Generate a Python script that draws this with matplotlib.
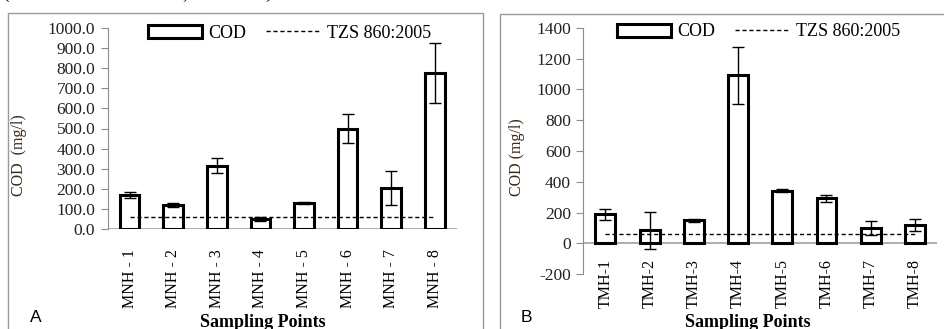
import matplotlib.pyplot as plt
from matplotlib.patches import Rectangle
import numpy as np

plt.rcParams['font.family'] = ['Liberation Serif', 'DejaVu Serif']

mnh_labels = ['MNH - 1', 'MNH - 2', 'MNH - 3', 'MNH - 4', 'MNH - 5', 'MNH - 6', 'MNH - 7', 'MNH - 8']
mnh_cod = [168, 117, 315, 50, 131, 500, 202, 775]
mnh_err = [15, 10, 38, 10, 5, 70, 85, 150]

tmh_labels = ['TMH-1', 'TMH-2', 'TMH-3', 'TMH-4', 'TMH-5', 'TMH-6', 'TMH-7', 'TMH-8']
tmh_cod = [190, 86, 152, 1090, 343, 292, 102, 120]
tmh_err = [35, 120, 10, 185, 12, 22, 45, 37]

tzs_limit = 60

W, H = 944, 329
fig = plt.figure(figsize=(W / 100, H / 100), dpi=100)


def px_axes(x0, x1, ytop, ybot):
    return fig.add_axes([x0 / W, 1 - ybot / H, (x1 - x0) / W, (ybot - ytop) / H])


def panel(ax, labels, cod, err, ylim, yticks, fmt, label_y, leg_x, leg_y):
    x = np.arange(len(labels))
    bars = ax.bar(x, cod, width=0.45, facecolor='white', edgecolor='black', linewidth=2.2,
                  zorder=2)
    ax.errorbar(x, cod, yerr=err, fmt='none', ecolor='black', elinewidth=1,
                capsize=4.5, capthick=1, zorder=3)
    line, = ax.plot([x[0], x[-1]], [tzs_limit, tzs_limit], color='black',
                    linestyle=(0, (3, 2)), linewidth=1, zorder=4)
    ax.set_xlim(-0.5, len(labels) - 0.5)
    ax.set_ylim(*ylim)
    ax.set_yticks(yticks)
    ax.set_yticklabels([fmt.format(v) for v in yticks], fontsize=12.5, color='#222222')
    ax.set_xticks([])
    for s in ['top', 'right', 'bottom']:
        ax.spines[s].set_visible(False)
    ax.spines['left'].set_color('#8c8c8c')
    ax.tick_params(axis='y', length=5, color='#8c8c8c', pad=4)
    ax.axhline(0, color='#a0a0a0', linewidth=1.2, zorder=1)
    for xi, lab in zip(x, labels):
        ax.text(xi, label_y, lab, rotation=90, ha='center', va='bottom', fontsize=11.5,
                transform=ax.get_xaxis_transform())
    ax.patch.set_alpha(0)
    ax.legend([bars, line], ['COD', 'TZS 860:2005'], loc='center left',
              bbox_to_anchor=(leg_x / W, 1 - leg_y / H), bbox_transform=fig.transFigure,
              ncol=2, frameon=False, fontsize=13, handlelength=3.0, handletextpad=0.35,
              columnspacing=1.1, borderpad=0, borderaxespad=0)


# panel A
axA = px_axes(107.7, 456.7, 28, 229)
panel(axA, mnh_labels, mnh_cod, mnh_err, (0, 1000), np.arange(0, 1001, 100), '{:.1f}',
      (229 - 308) / 201, 148, 33)

# panel B
axB = px_axes(583.3, 937, 27.7, 274.3)
panel(axB, tmh_labels, tmh_cod, tmh_err, (-200, 1400), np.arange(-200, 1401, 200), '{:d}',
      (274.3 - 308) / 246.6, 617, 32)

# y labels
fig.text(19 / W, 1 - 155 / H, 'COD  (mg/l)', rotation=90, ha='center', va='center',
         fontsize=11.5, color='#3a2a1a')
fig.text(517 / W, 1 - 157 / H, 'COD (mg/l)', rotation=90, ha='center', va='center',
         fontsize=11.5, color='#3a2a1a')

# x labels
fig.text(263 / W, 1 - 314 / H, 'Sampling Points', ha='center', va='top',
         fontsize=13, fontweight='bold')
fig.text(748 / W, 1 - 314 / H, 'Sampling Points', ha='center', va='top',
         fontsize=13, fontweight='bold')

# panel letters
fig.text(36 / W, 1 - 317 / H, 'A', ha='center', va='center', fontsize=12.5,
         family='Liberation Sans')
fig.text(526 / W, 1 - 317 / H, 'B', ha='center', va='center', fontsize=12.5,
         family='Liberation Sans')

# outer frames
fig.patches.append(Rectangle((7.5 / W, -0.1), (482.7 - 7.5) / W, 1.1 - 12.7 / H,
                             transform=fig.transFigure, fill=False, edgecolor='#9a9a9a',
                             linewidth=1))
fig.patches.append(Rectangle((500 / W, -0.1), 0.5, 1.1 - 14 / H,
                             transform=fig.transFigure, fill=False, edgecolor='#9a9a9a',
                             linewidth=1))

# clipped caption from above
for cx, ch in [(2, '('), (182, ','), (265, ')')]:
    fig.text(cx / W, 1 + 2 / H, ch, ha='left', va='baseline', fontsize=14)

fig.savefig('out.png', dpi=100)
